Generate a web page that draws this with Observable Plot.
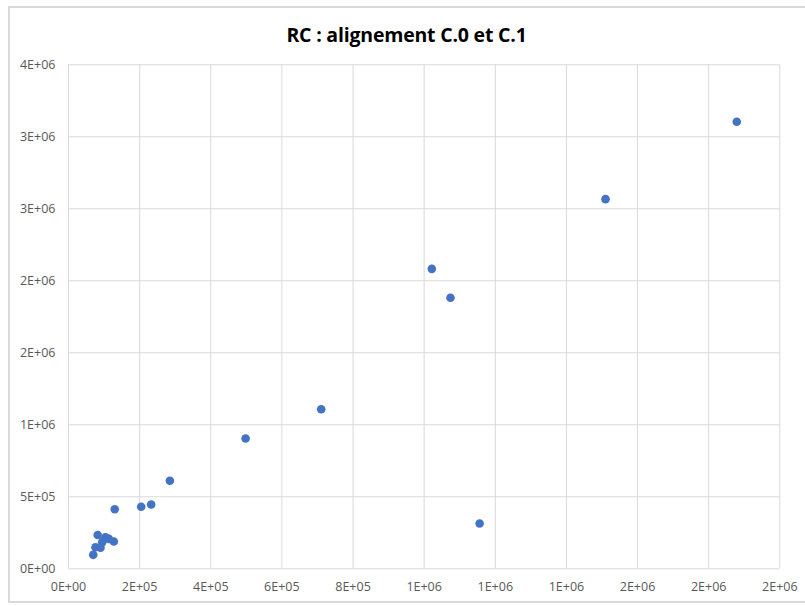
<!DOCTYPE html>
<html>
<head>
<meta charset="utf-8">
<script src="https://cdn.jsdelivr.net/npm/d3@7"></script>
<script src="https://cdn.jsdelivr.net/npm/@observablehq/plot@0.6"></script>
<style>
  html, body { margin: 0; padding: 0; background: #fff; }
  #chart { position: relative; width: 805px; height: 606px; overflow: hidden; font-family: "Open Sans", sans-serif; }
  #frame { position: absolute; left: 8px; top: 6px; width: 820px; height: 597px; border: 2px solid #d9d9d9; box-sizing: border-box; }
  #title { position: absolute; left: 8px; top: 0; width: 797px; height: 50px; line-height: 70px; text-align: center;
           font-size: 19.5px; font-weight: 700; color: #000; letter-spacing: -0.2px; }
  #plot { position: absolute; left: 0; top: 50px; }
</style>
</head>
<body>
<div id="chart">
  <div id="frame"></div>
  <div id="title">RC : alignement C.0 et C.1</div>
  <div id="plot"></div>
</div>
<script>
// C.0 (x) versus C.1 (y) values
const c0 = [1879000, 1510000, 1021500, 1074000, 1156000, 710500, 498000, 285000, 232500, 204400, 130000,
            82000, 69500, 127400, 104000, 94800, 75900, 113300, 90000];
const c1 = [3104000, 2567000, 2083000, 1882000, 315000, 1108000, 905000, 611000, 447000, 431000, 414000,
            235000, 97000, 190000, 219000, 185000, 150000, 208000, 146000];

// Axis ticks and their labels as displayed (scientific, rounded)
const xTicks = [0, 200000, 400000, 600000, 800000, 1000000, 1200000, 1400000, 1600000, 1800000, 2000000];
const xTickLabels = ["0E+00", "2E+05", "4E+05", "6E+05", "8E+05", "1E+06", "1E+06", "1E+06", "2E+06", "2E+06", "2E+06"];
const yTicks = [0, 500000, 1000000, 1500000, 2000000, 2500000, 3000000, 3500000];
const yTickLabels = ["0E+00", "5E+05", "1E+06", "2E+06", "2E+06", "3E+06", "3E+06", "4E+06"];

const points = c0.map((x, i) => ({x, y: c1[i]}));

const chart = Plot.plot({
  width: 805,
  height: 556,
  marginTop: 14.3,
  marginLeft: 68,
  marginRight: 25.7,
  marginBottom: 37.7,
  style: { fontFamily: "'Open Sans', sans-serif", fontSize: "12.5px", color: "#595959", background: "transparent" },
  x: { domain: [0, 2000000], ticks: xTicks },
  y: { domain: [0, 3500000], ticks: yTicks },
  marks: [
    Plot.gridX(xTicks, { stroke: "#d9d9d9", strokeOpacity: 1, strokeWidth: 1 }),
    Plot.gridY(yTicks, { stroke: "#d9d9d9", strokeOpacity: 1, strokeWidth: 1 }),
    Plot.axisX(xTicks, { tickSize: 0, tickPadding: 13, label: null, fill: "#595959",
      tickFormat: (d) => xTickLabels[xTicks.indexOf(d)] }),
    Plot.axisY(yTicks, { tickSize: 0, tickPadding: 13, label: null, fill: "#595959",
      tickFormat: (d) => yTickLabels[yTicks.indexOf(d)] }),
    Plot.dot(points, { x: "x", y: "y", r: 4.3, fill: "#4472c4", stroke: "none" })
  ]
});
document.getElementById("plot").appendChild(chart);
</script>
</body>
</html>
